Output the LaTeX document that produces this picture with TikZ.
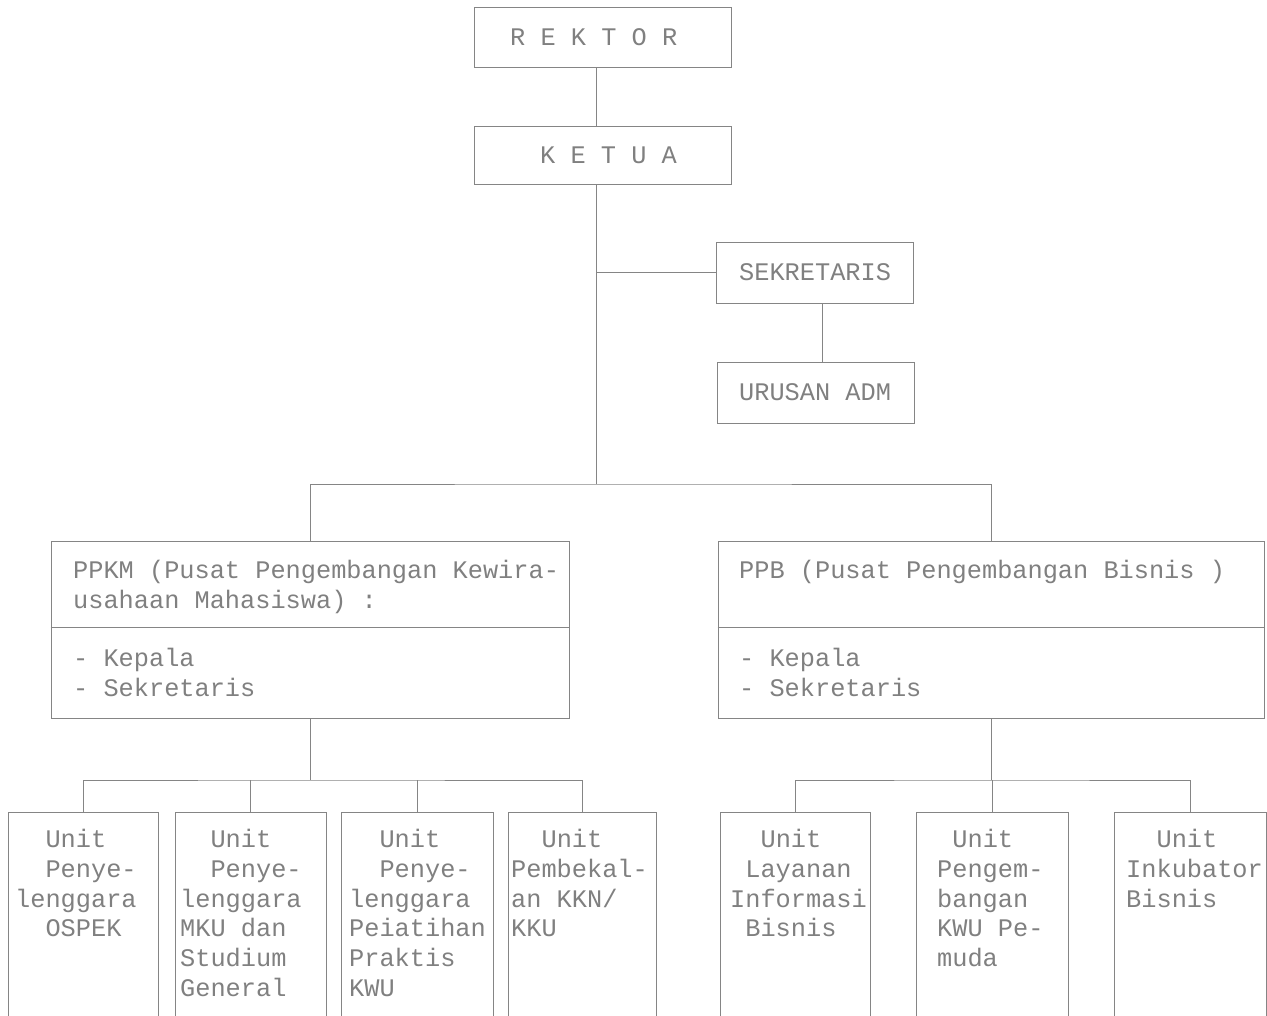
\documentclass[tikz,border=0pt]{standalone}
\usepackage{fontspec}
\usepackage{tikz}
\usetikzlibrary{calc}
\newfontfamily\typew{Liberation Mono}
\definecolor{linec}{gray}{0.52}
\definecolor{textc}{gray}{0.5}
\tikzset{
  orgbox/.style={draw=linec, line width=0.8pt, inner sep=0pt},
  orgtext/.style={font=\typew\fontsize{25.3}{29.8}\selectfont, text=textc, inner sep=0pt, align=left},
  conn/.style={draw=linec, line width=0.8pt}
}
\newcommand{\unitbox}[5]{\node[orgbox, minimum width=#3pt, minimum height=240pt] (#1) at (#2,932) {};
  \node[orgtext, anchor=north west] (#1t) at (#4,829) {#5};}

\begin{document}
\begin{tikzpicture}[x=1pt,y=-1pt]
        \useasboundingbox (0,0) rectangle (1267,1016);
        \clip (0,0) rectangle (1267,1016);
        %boxes
        \node[orgbox, minimum width=257pt, minimum height=60pt] (rektor) at (602.5,37) {};
        \node[orgbox, minimum width=257pt, minimum height=58pt] (ketua) at (602.5,155) {};
        \node[orgbox, minimum width=197pt, minimum height=61pt] (sekr) at (814.5,272.5) {};
        \node[orgbox, minimum width=197pt, minimum height=61pt] (adm) at (815.5,392.5) {};
        \node[orgbox, minimum width=518pt, minimum height=177pt] (ppkm) at (310,629.5) {};
        \node[orgbox, minimum width=546pt, minimum height=177pt] (ppb) at (991,629.5) {};
        %texts
        \node[orgtext, anchor=west] (rektort) at (510,37) {R E K T O R};
        \node[orgtext, anchor=west] (ketuat) at (540,155) {K E T U A};
        \node[orgtext, anchor=west] (sekrt) at (739,272.5) {SEKRETARIS};
        \node[orgtext, anchor=west] (admt) at (739,392.5) {URUSAN ADM};
        \node[orgtext, anchor=north west] (ppkmt) at (73,560) {PPKM (Pusat Pengembangan Kewira-\\usahaan Mahasiswa) :};
        \node[orgtext, anchor=north west] (ppkml) at (73,648) {- Kepala\\- Sekretaris};
        \node[orgtext, anchor=north west] (ppbt) at (739,560) {PPB (Pusat Pengembangan Bisnis )};
        \node[orgtext, anchor=north west] (ppbl) at (739,648) {- Kepala\\- Sekretaris};
        %units
        \unitbox{u1}{83}{150}{15}{~~Unit\\~~Penye-\\lenggara\\~~OSPEK}
        \unitbox{u2}{250.5}{151}{180}{~~Unit\\~~Penye-\\lenggara\\MKU dan\\Studium\\General}
        \unitbox{u3}{417}{152}{349}{~~Unit\\~~Penye-\\lenggara\\Peiatihan\\Praktis\\KWU}
        \unitbox{u4}{582}{148}{511}{~~Unit\\Pembekal-\\an KKN/\\KKU}
        \unitbox{u5}{795}{150}{730}{~~Unit\\~Layanan\\Informasi\\~Bisnis}
        \unitbox{u6}{992}{152}{937}{~Unit\\Pengem-\\bangan\\KWU Pe-\\muda}
        \unitbox{u7}{1190}{152}{1126}{~~Unit\\Inkubator\\Bisnis}
        %edges
        \coordinate (trunk) at (596,484);
        \coordinate (bus1) at (310,780);
        \coordinate (bus2) at (991,780);
        \draw[conn] (rektor.south -| trunk) -- (ketua.north -| trunk);
        \draw[conn] (ketua.south -| trunk) -- (trunk);
        \draw[conn] (trunk |- sekr.west) -- (sekr.west);
        \draw[conn] ($(sekr.south)+(8,0)$) -- ($(adm.north)+(7,0)$);
        \draw[conn] (ppkm.north) |- (trunk) -| (ppb.north);
        \draw[conn] (ppkm.south) -- (bus1);
        \draw[conn] (u1.north) |- (bus1) -| (u4.north);
        \draw[conn] (u2.north) -- (u2.north |- bus1);
        \draw[conn] (u3.north) -- (u3.north |- bus1);
        \draw[conn] (ppb.south) -- (bus2);
        \draw[conn] (u5.north) |- (bus2) -| (u7.north);
        \draw[conn] (u6.north) -- (u6.north |- bus2);
        %dividers
        \draw[conn] ($(ppkm.north west)+(0,87)$) -- ($(ppkm.north east)+(0,87)$);
        \draw[conn] ($(ppb.north west)+(0,87)$) -- ($(ppb.north east)+(0,87)$);
\end{tikzpicture}
\end{document}
